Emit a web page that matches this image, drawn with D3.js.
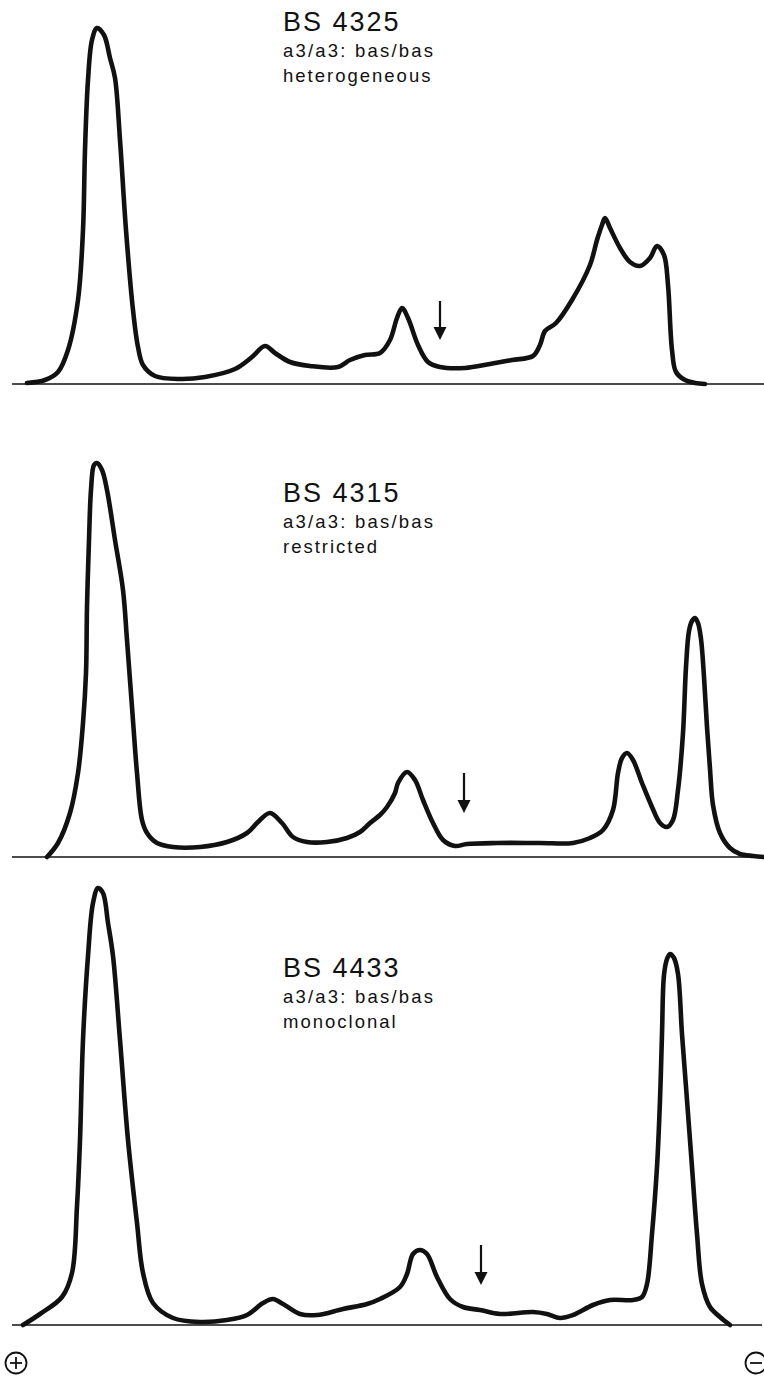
<!DOCTYPE html>
<html>
<head>
<meta charset="utf-8">
<script src="https://cdnjs.cloudflare.com/ajax/libs/d3/7.8.5/d3.min.js"></script>
<style>
  body { margin: 0; background: #fff; }
  svg { display: block; }
  text { font-family: "Liberation Sans", Arial, Helvetica, sans-serif; fill: #111; }
</style>
</head>
<body>
<div id="element"></div>
<script>
//______________________________________________________________________
//            Densitometer scans (track position, absorbance)
//______________________________________________________________________
var samples = ["BS 4325", "BS 4315", "BS 4433"];
var genotypes = ["a3/a3: bas/bas", "a3/a3: bas/bas", "a3/a3: bas/bas"];
var patterns = ["heterogeneous", "restricted", "monoclonal"];

var scan4325 = [
  [27,1],[45,4],[58,12],[68,34],[78,84],[83,154],[85,234],[88,304],[92,344],[97,356],
  [104,349],[110,326],[115,306],[120,244],[126,154],[133,74],[138,37],[143,19],[155,8],
  [180,5],[205,7],[235,15],[252,27],[265,38],[275,31],[290,22],[310,18],[338,17],[350,24],
  [365,29],[380,31],[390,44],[397,66],[402,76],[408,66],[418,39],[428,22],[440,17],[465,16],
  [490,20],[512,24],[533,28],[540,39],[545,53],[556,61],[572,84],[590,119],[597,144],
  [602,159],[605,166],[610,156],[620,136],[630,122],[640,118],[650,126],[657,138],[664,129],
  [668,99],[672,34],[676,12],[685,4],[695,1],[705,0]
];

var scan4315 = [
  [47,0],[58,14],[70,44],[78,84],[83,134],[86,184],[87,250],[89,317],[91,367],[94,392],
  [97,394],[102,387],[107,367],[115,317],[123,267],[127,217],[132,150],[137,84],[142,37],
  [147,24],[157,14],[173,10],[200,10],[227,15],[247,24],[258,35],[270,44],[282,34],[293,20],
  [307,15],[327,15],[347,19],[360,25],[370,34],[380,42],[387,50],[395,64],[398,74],[407,85],
  [415,77],[423,57],[433,34],[443,17],[455,11],[467,13],[497,14],[540,14],[573,14],[590,19],
  [603,27],[613,47],[618,84],[622,99],[627,104],[633,97],[642,74],[652,50],[660,34],[667,30],
  [673,37],[678,67],[683,124],[686,190],[689,226],[692,236],[695,239],[698,234],[701,218],
  [704,180],[707,130],[710,88],[713,52],[720,24],[730,9],[740,3],[753,1],[764,0]
];

var scan4433 = [
  [23,0],[40,11],[62,28],[72,52],[77,119],[80,185],[83,285],[88,369],[93,422],[98,437],
  [103,432],[108,402],[113,369],[120,285],[128,185],[137,102],[143,52],[153,22],[173,7],
  [200,3],[227,5],[247,10],[263,22],[273,26],[283,21],[300,11],[317,10],[343,16],[367,21],
  [380,26],[400,38],[407,51],[413,71],[420,75],[427,71],[437,48],[450,26],[463,18],[480,15],
  [500,11],[533,13],[547,11],[560,7],[573,10],[593,20],[610,25],[633,25],[642,28],[647,41],
  [652,91],[657,158],[660,225],[662,291],[664,350],[667,366],[670,371],[674,367],[678,351],
  [682,291],[687,225],[692,158],[697,91],[702,41],[710,18],[720,8],[730,0]
];

var scans = [scan4325, scan4315, scan4433];

// arrow marks: track position, tip height, top height
var arrowPos = [440, 464, 481];
var arrowTip = [44, 44, 40];
var arrowTop = [83, 84, 80];

//_________________________Size of the SVG______________________________
var width = 764,
    height = 1380;

var baselines = [384, 857, 1325];
var labelX = 283;

var svg = d3.select("#element")
  .append("svg")
  .attr("width", width)
  .attr("height", height);

var x = d3.scaleLinear().domain([0, 764]).range([0, 764]);

var line = d3.line().curve(d3.curveCatmullRom.alpha(0.5));

scans.forEach(function (scan, i) {
  var base = baselines[i];
  var y = d3.scaleLinear().domain([0, 400]).range([base, base - 400]);

  var g = svg.append("g").attr("class", "panel");

  // baseline
  g.append("line")
    .attr("x1", x(12)).attr("x2", x(i === 2 ? 762 : 764))
    .attr("y1", y(0)).attr("y2", y(0))
    .attr("stroke", "#111")
    .attr("stroke-width", 1.6);

  // scan trace
  g.append("path")
    .datum(scan)
    .attr("d", line.x(function (d) { return x(d[0]); }).y(function (d) { return y(d[1]); }))
    .attr("fill", "none")
    .attr("stroke", "#111")
    .attr("stroke-width", 4.6)
    .attr("stroke-linejoin", "round")
    .attr("stroke-linecap", "round");

  // arrow
  var ax = x(arrowPos[i]);
  g.append("line")
    .attr("x1", ax).attr("x2", ax)
    .attr("y1", y(arrowTop[i])).attr("y2", y(arrowTip[i]) - 8)
    .attr("stroke", "#111")
    .attr("stroke-width", 2.2);
  g.append("path")
    .attr("d", "M" + (ax - 6.5) + "," + (y(arrowTip[i]) - 13) +
               "L" + (ax + 6.5) + "," + (y(arrowTip[i]) - 13) +
               "L" + ax + "," + y(arrowTip[i]) + "Z")
    .attr("fill", "#111");
});

//______________________________Labels__________________________________
var titleY = [31, 502, 977];

titleY.forEach(function (ty, i) {
  svg.append("text")
    .attr("x", labelX).attr("y", ty)
    .style("font-size", "27px")
    .style("letter-spacing", "2px")
    .text(samples[i]);
  svg.append("text")
    .attr("x", labelX).attr("y", ty + 26)
    .style("font-size", "18.5px")
    .style("letter-spacing", "2.2px")
    .text(genotypes[i]);
  svg.append("text")
    .attr("x", labelX).attr("y", ty + 51)
    .style("font-size", "18.5px")
    .style("letter-spacing", "2px")
    .text(patterns[i]);
});

//________________________Electrode symbols_____________________________
var poles = [{cx: 16, sign: "+"}, {cx: 756, sign: "-"}];

poles.forEach(function (p) {
  var g = svg.append("g").attr("stroke", "#111").attr("stroke-width", 1.8).attr("fill", "none");
  g.append("circle").attr("cx", p.cx).attr("cy", 1363).attr("r", 10.5);
  g.append("line").attr("x1", p.cx - 6).attr("x2", p.cx + 6).attr("y1", 1363).attr("y2", 1363);
  if (p.sign === "+") {
    g.append("line").attr("x1", p.cx).attr("x2", p.cx).attr("y1", 1357).attr("y2", 1369);
  }
});
</script>
</body>
</html>
